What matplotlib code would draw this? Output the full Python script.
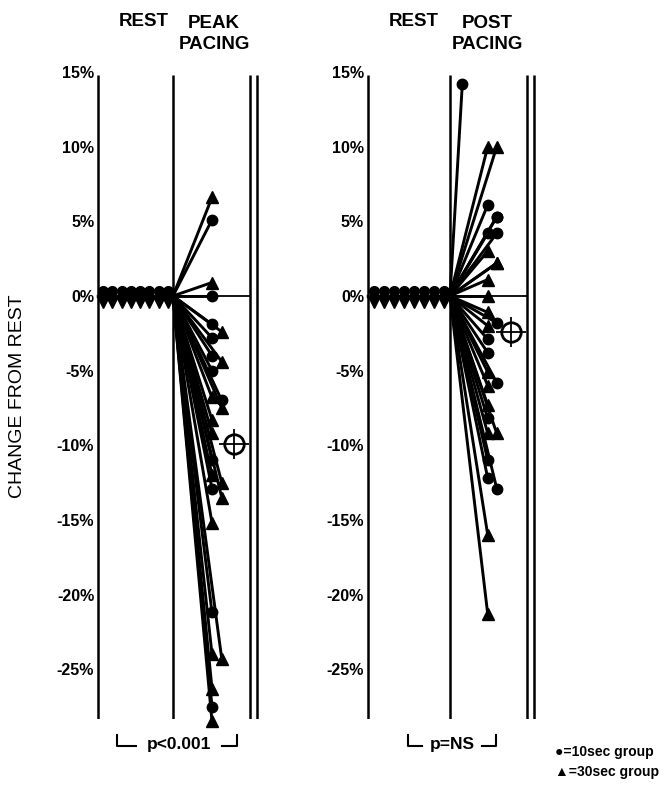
import matplotlib
matplotlib.use("Agg")
import matplotlib.pyplot as plt
import numpy as np

plt.rcParams['font.family'] = ['Liberation Sans', 'DejaVu Sans']

# ---------------- data (percent change from rest) ----------------
yticks = [15, 10, 5, 0, -5, -10, -15, -20, -25]
ytick_labels = ["15%", "10%", "5%", "0%", "-5%", "-10%", "-15%", "-20%", "-25%"]

peak_10sec = [5.1, 0.0, -1.9, -2.8, -4.0, -5.0, -7.0, -11.0, -12.9, -21.2, -27.5]
peak_30sec = [6.6, 0.9, -2.4, -4.4, -6.8, -7.5, -8.3, -9.2, -12.0, -12.5, -13.5,
              -15.2, -24.0, -24.3, -26.3, -28.5]
peak_mean = -9.9

post_10sec = [14.2, 6.1, 5.3, 5.3, 4.2, 4.2, -1.8, -2.9, -3.8, -5.8, -8.2,
              -11.0, -12.2, -12.9]
post_30sec = [10.0, 10.0, 3.0, 2.2, 2.2, 1.1, 0.0, -1.1, -2.0, -5.1, -6.0,
              -7.3, -9.2, -9.2, -16.0, -21.3]
post_mean = -2.4

rest_count = 8
panel_titles = [("REST", "PEAK\nPACING"), ("REST", "POST\nPACING")]
p_texts = ["p<0.001", "p=NS"]
legend_texts = ["\u25cf=10sec group", "\u25b2=30sec group"]
ylabel = "CHANGE FROM REST"

# ---------------- layout ----------------
W, H = 664, 786
fig = plt.figure(figsize=(W / 100, H / 100), dpi=100)
ymin, ymax = -28.3, 15.0
y_top_px, y_bot_px = 72, 718.5


def px_axes(x0_px, unit_px, xlim):
    left = x0_px + xlim[0] * unit_px
    width = (xlim[1] - xlim[0]) * unit_px
    ax = fig.add_axes([left / W, 1 - y_bot_px / H, width / W, (y_bot_px - y_top_px) / H])
    ax.set_xlim(*xlim)
    ax.set_ylim(ymin, ymax)
    for s in ax.spines.values():
        s.set_visible(False)
    ax.set_xticks([])
    ax.set_yticks(yticks)
    ax.set_yticklabels(ytick_labels, fontsize=11.5, fontweight='bold')
    ax.tick_params(axis='y', length=0, pad=0)
    ax.patch.set_alpha(0)
    return ax


def marker_positions(vals_a, vals_b, base, off, tol=0.8):
    allv = [(v, 'a', i) for i, v in enumerate(vals_a)] + [(v, 'b', i) for i, v in enumerate(vals_b)]
    allv.sort(key=lambda t: -t[0])
    xa = [base] * len(vals_a)
    xb = [base] * len(vals_b)
    last_base = None
    for v, g, i in allv:
        if last_base is not None and abs(last_base - v) < tol:
            x = off
        else:
            x = base
            last_base = v
        if g == 'a':
            xa[i] = x
        else:
            xb[i] = x
    return xa, xb


def draw_panel(ax, right_lines, vals10, vals30, mean, base, off, special=None):
    lw_frame = 1.8
    top = 14.8
    ax.plot([0, 0], [ymin, top], color='black', lw=lw_frame, solid_capstyle='butt')
    ax.plot([1, 1], [ymin, top], color='black', lw=lw_frame, solid_capstyle='butt')
    for xr in right_lines:
        ax.plot([xr, xr], [ymin, top], color='black', lw=lw_frame, solid_capstyle='butt')
    # zero reference line
    ax.plot([1, right_lines[0]], [0, 0], color='black', lw=1.3)
    # rest markers
    rx = np.linspace(0.07, 0.93, rest_count)
    ax.plot(rx, np.full(rest_count, 0.35), 'o', color='black', ms=7)
    ax.plot(rx, np.full(rest_count, -0.45), 'v', color='black', ms=6.5)
    ax.plot([0, 1], [0, 0], color='black', lw=2.5)
    x10, x30 = marker_positions(vals10, vals30, base, off)
    if special:
        for grp, idx, xs in special:
            (x10 if grp == 10 else x30)[idx] = xs
    for xs, vals in ((x10, vals10), (x30, vals30)):
        for xm, v in zip(xs, vals):
            ax.plot([1, xm], [0, v], color='black', lw=2.1, solid_capstyle='round')
    ax.plot(x10, vals10, 'o', color='black', ms=7.5, zorder=5, clip_on=False)
    ax.plot(x30, vals30, '^', color='black', ms=8.5, zorder=5, clip_on=False)
    return x10, x30


# left panel
axL = px_axes(98, 75, (-0.05, 2.2))
draw_panel(axL, [2.03, 2.12], peak_10sec, peak_30sec, peak_mean, 1.52, 1.65)
axL.plot([1.81], [peak_mean], 'o', ms=14, mfc='white', mec='black', mew=2, zorder=6)
axL.plot([1.81], [peak_mean], '+', ms=21, color='black', mew=1.3, zorder=7)

# right panel
axR = px_axes(368, 82, (-0.05, 2.12))
draw_panel(axR, [1.94, 2.02], post_10sec, post_30sec, post_mean, 1.46, 1.57,
           special=[(10, 0, 1.15)])
axR.plot([1.74], [post_mean], 'o', ms=14, mfc='white', mec='black', mew=2, zorder=6)
axR.plot([1.74], [post_mean], '+', ms=21, color='black', mew=1.3, zorder=7)

# ---------------- text ----------------
def ftext(xp, yp, s, **kw):
    fig.text(xp / W, 1 - yp / H, s, **kw)

hdr = dict(fontsize=13.5, fontweight='bold', ha='center', va='center', linespacing=1.35)
ftext(144, 22, panel_titles[0][0], **hdr)
ftext(214, 34, panel_titles[0][1], **hdr)
ftext(414, 22, panel_titles[1][0], **hdr)
ftext(487, 34, panel_titles[1][1], **hdr)

ftext(18, 396, ylabel, fontsize=14, rotation=90, ha='center', va='center')

# p-value brackets
def bracket(x0, x1, xt0, xt1, txt):
    yl = 1 - 746 / H
    yt = 1 - 735 / H
    kw = dict(color='black', lw=1.5, transform=fig.transFigure)
    fig.add_artist(plt.Line2D([x0 / W, x0 / W, xt0 / W], [yt, yl, yl], **kw))
    fig.add_artist(plt.Line2D([xt1 / W, x1 / W, x1 / W], [yl, yl, yt], **kw))
    ftext((xt0 + xt1) / 2, 745, txt, fontsize=12.5, fontweight='bold', ha='center', va='center')

bracket(117, 237, 136, 222, p_texts[0])
bracket(408, 496, 422, 482, p_texts[1])

ftext(555, 752, legend_texts[0], fontsize=10, fontweight='bold', ha='left', va='center')
ftext(555, 772, legend_texts[1], fontsize=10, fontweight='bold', ha='left', va='center')

fig.savefig("out.png", dpi=100)
